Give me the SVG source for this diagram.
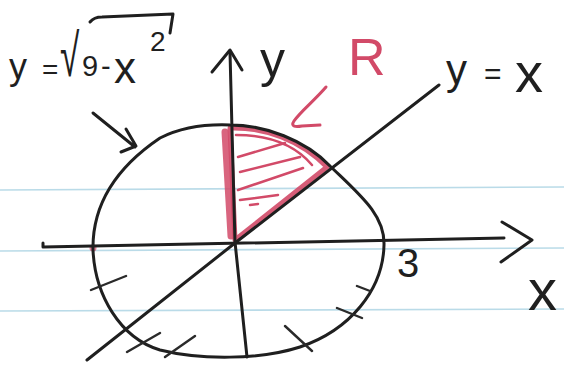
<svg xmlns="http://www.w3.org/2000/svg" width="564" height="366" viewBox="0 0 564 366">
<defs>
<style>
.ink{fill:none;stroke:#1f1f1f;stroke-width:3;stroke-linecap:round;stroke-linejoin:round}
.thin{fill:none;stroke:#2a2a2a;stroke-width:2.4;stroke-linecap:round}
.red{fill:none;stroke:#d24a68;stroke-linecap:round;stroke-linejoin:round}
.paper{stroke:#a9d3e3;stroke-width:1.6;opacity:0.8}
.t{font-family:"Liberation Sans",Arial,sans-serif;fill:#1f1f1f}
.rt{font-family:"Liberation Sans",Arial,sans-serif;fill:#d24a68}
</style>
</defs>
<rect width="564" height="366" fill="#ffffff"/>
<g id="paper-lines">
<line class="paper" x1="0" y1="190" x2="564" y2="187"/>
<line class="paper" x1="0" y1="251" x2="564" y2="248"/>
<line class="paper" x1="0" y1="311" x2="564" y2="309"/>
</g>
<g id="region-R">
<path class="red" stroke-width="5" opacity="0.9" d="M235,240 L230,128 C265,127 300,140 327,167 L235,240 Z"/>
<path class="red" stroke-width="7" opacity="0.85" d="M225,132 L231,236"/>
<path class="red" stroke-width="2.5" d="M236,135 C270,135 295,145 312,165"/>
<path class="red" stroke-width="2.5" d="M238,157 L285,143 M240,172 L300,157 M238,190 L303,168 M240,200 L278,195 M250,205 L258,204"/>
<circle cx="93" cy="248" r="3.5" fill="#d24a68" opacity="0.7"/>
</g>
<g id="connectors">
<path class="ink" d="M43,243 L43,247 L504,238"/>
<path class="ink" d="M502,222 L532,240 L501,262"/>
<path class="ink" d="M230,52 L232,130 L235,242 L247,357"/>
<path class="ink" d="M212,72 L230,50 L242,70"/>
<path class="ink" d="M87,360 L235,243 L439,85"/>
<path class="ink" d="M93,113 L135,147 M126,129 L136,146 L121,152"/>
<path class="red" stroke-width="3" d="M326,87 C315,100 300,112 294,121 C290,127 296,127 302,126 L320,125"/>
</g>
<g id="circle">
<path class="ink" d="M230,125 C265,125 305,140 330,166 C360,195 385,215 384,245 C383,290 350,330 300,347 C260,360 200,360 160,350 C120,338 95,295 93,250 C92,200 120,165 160,138 C180,128 205,124 230,125 Z"/>
<path class="thin" d="M91,290 L126,276 M127,352 L160,333 M165,357 L195,336 M285,326 L312,351 M337,308 L362,318 M357,286 L370,291"/>
</g>
<g id="label-curve">
<text class="t" x="9" y="79" font-size="36">y</text>
<text class="t" x="42" y="79" font-size="28">=</text>
<text class="t" x="60" y="76" font-size="44" transform="translate(60,76) scale(0.8,1.35) translate(-60,-76)">√</text>
<text class="t" x="82" y="76" font-size="29">9</text>
<text class="t" x="101" y="76" font-size="29">-</text>
<text class="t" x="114" y="83" font-size="44">x</text>
<text class="t" x="150" y="51" font-size="28">2</text>
<path class="ink" d="M90,22 Q94,17 102,17 L173,14 L170,33"/>
</g>
<g id="label-y">
<text class="t" x="260" y="77" font-size="50">y</text>
</g>
<g id="label-R">
<text class="rt" x="348" y="75" font-size="52">R</text>
</g>
<g id="label-yx">
<text class="t" x="446" y="84" font-size="42">y</text>
<text class="t" x="484" y="84" font-size="30">=</text>
<text class="t" x="515" y="92" font-size="56">x</text>
</g>
<g id="label-3">
<text class="t" x="397" y="277" font-size="40">3</text>
</g>
<g id="label-x">
<text class="t" x="528" y="310" font-size="58">x</text>
</g>
</svg>
